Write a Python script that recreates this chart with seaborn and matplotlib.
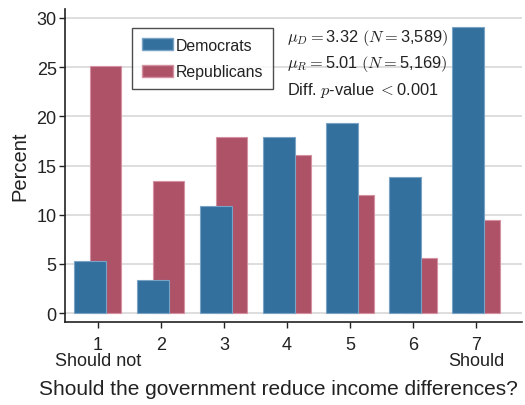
import numpy as np
import pandas as pd
import matplotlib
matplotlib.use("Agg")
import matplotlib.pyplot as plt
import seaborn as sns
from matplotlib.patches import Patch

# Response scale and share of each party choosing each answer (percent)
categories = np.array([1, 2, 3, 4, 5, 6, 7])
democrats = [5.3, 3.4, 10.9, 17.9, 19.3, 13.8, 29.1]
republicans = [25.1, 13.4, 17.9, 16.1, 12.0, 5.6, 9.5]
tick_labels = ["1\nShould not", "2", "3", "4", "5", "6", "7\nShould"]
series_names = ["Democrats", "Republicans"]
stats_lines = [
    r"$\mu_D = $3.32 $(N = $3,589$)$",
    r"$\mu_R = $5.01 $(N = $5,169$)$",
    r"Diff. $p$-value $<$0.001",
]

BLUE = "#34709e"
RED = "#ae5267"
INK = "#222222"

sns.set_theme(style="white")
plt.rcParams["font.family"] = ["Liberation Sans", "DejaVu Sans"]
plt.rcParams["mathtext.fontset"] = "cm"

fig = plt.figure(figsize=(5.25, 4.06), dpi=100)
ax = fig.add_axes([65 / 525, 1 - 323 / 406, (522 - 65) / 525, (323 - 10) / 406])

df_r = pd.DataFrame({"x": categories + 0.125, "pct": republicans})
df_d = pd.DataFrame({"x": categories - 0.125, "pct": democrats})

sns.barplot(data=df_r, x="x", y="pct", native_scale=True, color=RED,
            saturation=1, width=0.5, edgecolor="#d391a1", linewidth=0.8,
            ax=ax, zorder=2)
sns.barplot(data=df_d, x="x", y="pct", native_scale=True, color=BLUE,
            saturation=1, width=0.5, edgecolor="#79a3c4", linewidth=0.8,
            ax=ax, zorder=3)

ax.set_xlim(0.48, 7.73)
ax.set_ylim(-0.9, 30.9)
ax.set_yticks([0, 5, 10, 15, 20, 25, 30])
ax.set_xticks(categories)
ax.set_xticklabels(tick_labels, fontsize=13, color=INK, linespacing=0.9)
ax.tick_params(axis="y", labelsize=13, labelcolor=INK, pad=2)
ax.tick_params(axis="x", pad=6)
ax.tick_params(axis="both", direction="out", length=4, width=1,
               color=INK, bottom=True, left=True)

ax.yaxis.grid(True, color="#d8d8d8", linewidth=1.2, zorder=0)
ax.set_axisbelow(True)

for side in ["top", "right"]:
    ax.spines[side].set_visible(False)
for side in ["left", "bottom"]:
    ax.spines[side].set_color(INK)
    ax.spines[side].set_linewidth(1.2)

ax.set_ylabel("Percent", fontsize=14.5, color=INK, labelpad=5)
ax.set_xlabel("Should the government reduce income differences?",
              fontsize=15, color=INK)
# centre of the axis title sits a little left of the axes centre
ax.xaxis.set_label_coords((278 - 65) / (522 - 65), -(390 - 323) / (323 - 10))
ax.xaxis.label.set_va("center")

handles = [Patch(facecolor=BLUE, edgecolor="#79a3c4"),
           Patch(facecolor=RED, edgecolor="#d391a1")]
leg = ax.legend(handles, series_names, loc="upper left",
                bbox_to_anchor=(132 / 525, 1 - 29 / 406),
                bbox_transform=fig.transFigure, fontsize=11.4,
                frameon=True, fancybox=False, shadow=False,
                handlelength=1.95, handleheight=0.8, handletextpad=0.2,
                borderpad=0.62, labelspacing=0.72, borderaxespad=0)
leg.get_frame().set_edgecolor(INK)
leg.get_frame().set_linewidth(1.0)
for t in leg.get_texts():
    t.set_color(INK)

for i, line in enumerate(stats_lines):
    fig.text(287 / 525, 1 - (38 + 26 * i) / 406, line, fontsize=11.8,
             color=INK, va="center", ha="left")

fig.savefig("out.png", dpi=100)
